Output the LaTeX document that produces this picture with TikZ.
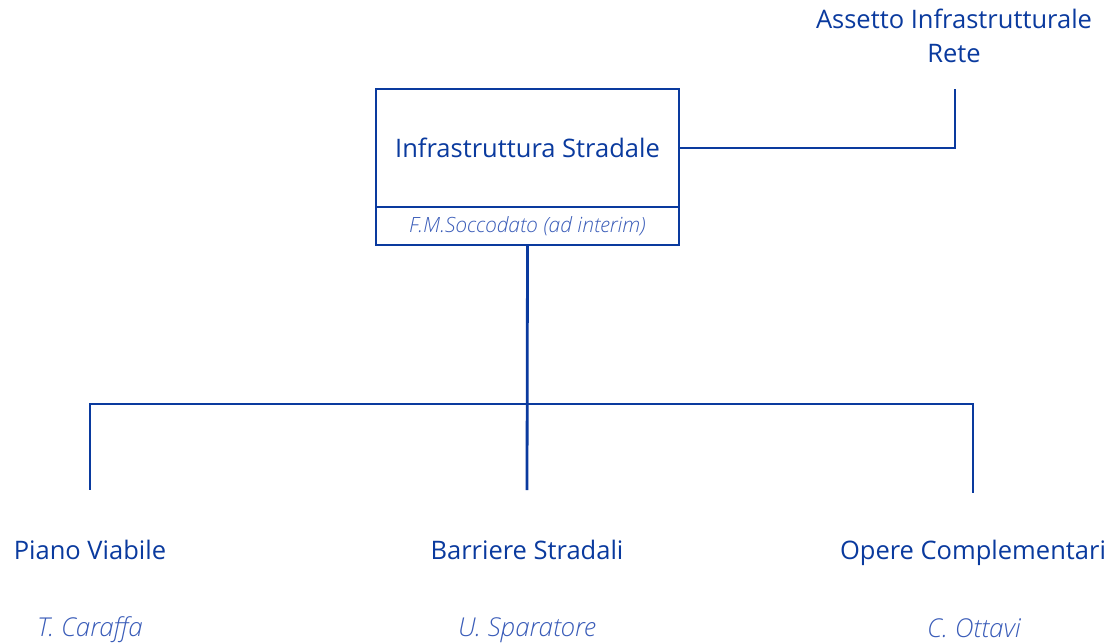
\documentclass[tikz,border=0pt]{standalone}
\usepackage{fontspec}
\setmainfont{Open Sans}
\newfontfamily\lightit{Open Sans Light Italic}
\usetikzlibrary{positioning}
\definecolor{orgblue}{HTML}{0A3A9E}
\definecolor{nameblue}{HTML}{3A5CB8}

\begin{document}
\begin{tikzpicture}[x=1pt,y=-1pt,font=\fontsize{25.5}{34}\selectfont,
  conn/.style={draw=orgblue,line width=2.8pt},
  unit/.style={text=orgblue,align=center,inner sep=0pt},
  head/.style={draw=orgblue,line width=2.8pt,minimum width=303pt,inner sep=0pt,outer sep=0pt},
  person/.style={text=nameblue,inner sep=0pt,font=\lightit\fontsize{26}{30}\selectfont}]
\useasboundingbox (0,0) rectangle (1115,644);
\node[head,minimum height=118pt,text=orgblue] (infra) at (527.5,148) {Infrastruttura Stradale};
\node[head,minimum height=38pt,below=0pt of infra,text=nameblue,font=\lightit\fontsize{21}{24}\selectfont] (resp) {F.M.Soccodato (ad interim)};
\node[unit] (rete) at (954,36) {Assetto Infrastrutturale\\Rete};
\node[unit] (piano) at (90,550) {Piano Viabile};
\node[unit] (barr) at (527,550) {Barriere Stradali};
\node[unit] (opere) at (973,553) {Opere Complementari};
\node[person] (caraffa) at (90,630) {T. Caraffa};
\node[person] (sparat) at (527,630) {U. Sparatore};
\node[person] (ottavi) at (974,628) {C. Ottavi};
% free ends of the connectors
\coordinate (reteend) at (955,89);
\coordinate (junc) at (527,404);
\coordinate (pianoend) at (90,490);
\coordinate (barrend) at (527,490);
\coordinate (opereend) at (973,493);
\draw[conn] (infra.east) -| (reteend);
\draw[conn] (resp.south) -- (barrend);
\draw[conn] (junc) -| (pianoend);
\draw[conn] (junc) -| (opereend);
\end{tikzpicture}
\end{document}
